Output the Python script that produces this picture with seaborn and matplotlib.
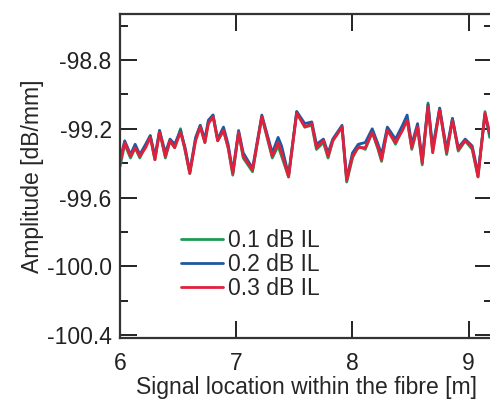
import pandas as pd
import numpy as np
import matplotlib.pyplot as plt
import seaborn as sns
from matplotlib.ticker import MultipleLocator

# Signal location (m) and amplitude traces
location = [6.00, 6.04, 6.09, 6.13, 6.17, 6.22, 6.26, 6.30, 6.34, 6.39,
            6.43, 6.47, 6.52, 6.56, 6.60, 6.65, 6.69, 6.73, 6.76, 6.80,
            6.84, 6.89, 6.93, 6.97, 7.02, 7.06, 7.14, 7.22, 7.31, 7.36,
            7.39, 7.45, 7.52, 7.59, 7.65, 7.69, 7.75, 7.79, 7.83, 7.91,
            7.95, 8.00, 8.05, 8.11, 8.17, 8.22, 8.25, 8.30, 8.37, 8.43,
            8.47, 8.51, 8.56, 8.60, 8.65, 8.69, 8.75, 8.81, 8.86, 8.91,
            8.97, 9.03, 9.08, 9.14, 9.18]

il_01 = [-99.42, -99.29, -99.37, -99.31, -99.37, -99.30, -99.24, -99.38, -99.21, -99.37,
         -99.27, -99.31, -99.20, -99.33, -99.46, -99.26, -99.18, -99.28, -99.16, -99.12,
         -99.27, -99.21, -99.31, -99.47, -99.22, -99.37, -99.45, -99.13, -99.37, -99.30,
         -99.36, -99.48, -99.10, -99.19, -99.18, -99.32, -99.28, -99.37, -99.27, -99.19,
         -99.51, -99.37, -99.30, -99.32, -99.22, -99.32, -99.39, -99.20, -99.29, -99.20,
         -99.14, -99.32, -99.19, -99.41, -99.05, -99.33, -99.08, -99.35, -99.14, -99.33,
         -99.27, -99.32, -99.48, -99.10, -99.25]

il_02 = [-99.38, -99.27, -99.35, -99.29, -99.35, -99.29, -99.24, -99.36, -99.21, -99.34,
         -99.26, -99.29, -99.21, -99.31, -99.45, -99.25, -99.18, -99.26, -99.15, -99.12,
         -99.26, -99.19, -99.29, -99.45, -99.21, -99.34, -99.43, -99.12, -99.34, -99.25,
         -99.30, -99.47, -99.10, -99.17, -99.16, -99.29, -99.26, -99.34, -99.26, -99.18,
         -99.49, -99.34, -99.29, -99.28, -99.20, -99.29, -99.35, -99.19, -99.26, -99.18,
         -99.12, -99.29, -99.17, -99.38, -99.06, -99.31, -99.08, -99.32, -99.14, -99.31,
         -99.26, -99.30, -99.46, -99.12, -99.23]

il_03 = [-99.40, -99.28, -99.36, -99.31, -99.36, -99.31, -99.25, -99.38, -99.22, -99.36,
         -99.27, -99.31, -99.22, -99.32, -99.46, -99.27, -99.19, -99.28, -99.17, -99.13,
         -99.27, -99.21, -99.31, -99.46, -99.22, -99.36, -99.44, -99.13, -99.36, -99.28,
         -99.34, -99.48, -99.11, -99.19, -99.17, -99.31, -99.27, -99.36, -99.27, -99.19,
         -99.50, -99.36, -99.31, -99.31, -99.22, -99.31, -99.38, -99.21, -99.28, -99.21,
         -99.15, -99.31, -99.19, -99.40, -99.07, -99.34, -99.09, -99.34, -99.15, -99.32,
         -99.27, -99.31, -99.48, -99.11, -99.22]

labels = ["0.1 dB IL", "0.2 dB IL", "0.3 dB IL"]
colors = ["#1d9a55", "#1f5aa0", "#e3203c"]

df = pd.concat([
    pd.DataFrame({"location": location, "amplitude": vals, "series": lab})
    for vals, lab in zip([il_01, il_02, il_03], labels)
])

sns.set_style("ticks")
plt.rcParams['font.family'] = ['Liberation Sans', 'DejaVu Sans']
FS = 16.5

fig = plt.figure(figsize=(4.9, 3.99), dpi=100)
ax = fig.add_axes([0.245, 0.153, 0.759, 0.812])

sns.lineplot(data=df, x="location", y="amplitude", hue="series",
             palette=colors, linewidth=2.0, ax=ax, legend=True)

ax.set_xlim(6, 9.2)
ax.set_ylim(-100.417, -98.532)
ax.xaxis.set_major_locator(MultipleLocator(1))
ax.yaxis.set_major_locator(MultipleLocator(0.4))
ax.yaxis.set_minor_locator(MultipleLocator(0.2))
ax.yaxis.set_major_formatter(plt.FuncFormatter(lambda v, p: f"{v:.1f}"))

ax.tick_params(which="both", direction="in", top=True, right=True,
               labelsize=FS, width=1.4, colors="#222222")
ax.tick_params(axis="x", pad=10)
ax.tick_params(axis="y", pad=6)
ax.tick_params(which="major", length=12)
ax.tick_params(which="minor", length=6)
for sp in ax.spines.values():
    sp.set_linewidth(1.6)
    sp.set_color("#333333")

ax.set_xlabel("Signal location within the fibre [m]", fontsize=FS, labelpad=1)
ax.set_ylabel("Amplitude [dB/mm]", fontsize=FS, labelpad=2)

ax.legend(frameon=False, loc="upper left", bbox_to_anchor=(0.108, 0.40),
          fontsize=FS, handlelength=1.85, handletextpad=0.22, labelspacing=0.05,
          title=None)

fig.savefig("out.png", dpi=100)
plt.close()
